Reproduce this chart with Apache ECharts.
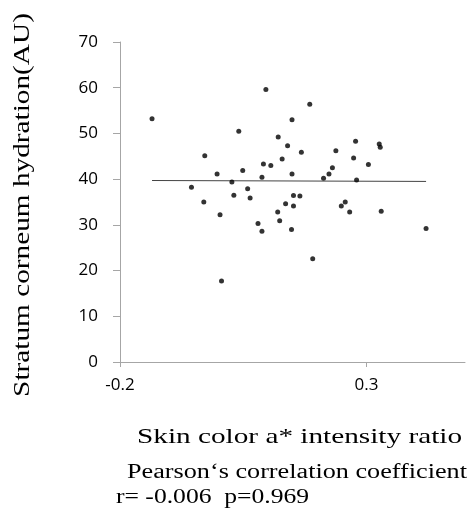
<!DOCTYPE html>
<html>
<head>
<meta charset="utf-8">
<title>Skin color vs stratum corneum hydration</title>
<script src="https://cdn.jsdelivr.net/npm/echarts@6.0.0/dist/echarts.min.js"></script>
<style>
  html, body { margin: 0; padding: 0; background: #fff; }
  #chart { width: 469px; height: 511px; }
</style>
</head>
<body>
<div id="chart"></div>
<script>
// a* intensity ratio (x) and hydration in AU (y)
const ratioValues = [
  -0.135, 0.096, 0.185, 0.149, 0.041, 0.121, 0.140, 0.278, 0.326, 0.328,
  -0.028, 0.168, 0.238, 0.274, 0.129, 0.091, 0.106, 0.304, 0.231, 0.049,
  -0.003, 0.149, 0.224, 0.088, 0.213, 0.280, 0.027, -0.055, 0.059, 0.031,
  0.064, 0.152, 0.165, -0.030, 0.136, 0.152, 0.257, 0.249, 0.266, 0.330,
  0.120, 0.003, 0.124, 0.080, 0.088, 0.148, 0.421, 0.191, 0.006,
];
const hydrationValues = [
  53.2, 59.6, 56.4, 53.0, 50.5, 49.2, 47.3, 48.3, 47.7, 47.0,
  45.1, 45.9, 46.2, 44.6, 44.4, 43.3, 43.0, 43.2, 42.5, 41.9,
  41.1, 41.1, 41.1, 40.4, 40.2, 39.8, 39.4, 38.2, 37.9, 36.5,
  35.9, 36.4, 36.3, 35.0, 34.6, 34.1, 35.0, 34.1, 32.8, 33.0,
  32.8, 32.2, 30.9, 30.3, 28.6, 29.0, 29.2, 22.6, 17.7,
];
// linear fit end points
const fitX = [-0.135, 0.421];
const fitY = [39.7, 39.5];

const xTicks = [-0.2, 0.3];
const yTicks = [0, 10, 20, 30, 40, 50, 60, 70];

const points = ratioValues.map((v, i) => [v, hydrationValues[i]]);
const fitLine = fitX.map((v, i) => [v, fitY[i]]);

const axisGray = '#a6a6a6';
const serif = '"Liberation Serif", "DejaVu Serif", serif';
const sans = '"Open Sans", "Noto Sans", sans-serif';

// the original titles use a wide (mincho-like) face, so stretch them a bit
const titleText = (text, x, y, size, sx, extra) => ({
  type: 'text',
  x,
  y,
  scaleX: sx,
  ...extra,
  style: {
    text,
    fontFamily: serif,
    fontSize: size,
    fill: '#000',
    align: extra && extra.rotation ? 'center' : 'left',
    verticalAlign: 'middle',
  },
});

const option = {
  animation: false,
  backgroundColor: '#fff',
  grid: {
    left: 120,
    right: 4,
    top: 42,
    bottom: 149,
  },
  xAxis: {
    type: 'value',
    min: -0.2,
    max: 0.5,
    interval: 0.5,
    splitLine: { show: false },
    axisLine: {
      onZero: false,
      lineStyle: { color: axisGray, width: 1 },
    },
    axisTick: {
      show: true,
      length: 5,
      customValues: xTicks,
      lineStyle: { color: axisGray },
    },
    axisLabel: {
      customValues: xTicks,
      color: '#000',
      fontFamily: sans,
      fontSize: 17,
      margin: 15,
      formatter: (v) => String(v),
    },
  },
  yAxis: {
    type: 'value',
    min: 0,
    max: 70,
    interval: 10,
    splitLine: { show: false },
    axisLine: {
      show: true,
      onZero: false,
      lineStyle: { color: axisGray, width: 1 },
    },
    axisTick: {
      show: true,
      length: 7,
      customValues: yTicks,
      lineStyle: { color: axisGray },
    },
    axisLabel: {
      customValues: yTicks,
      color: '#000',
      fontFamily: sans,
      fontSize: 17,
      margin: 22,
      padding: [5, 0, 0, 0],
    },
  },
  series: [
    {
      name: 'fit',
      type: 'line',
      data: fitLine,
      symbol: 'none',
      silent: true,
      lineStyle: { color: '#444', width: 1 },
      z: 1,
    },
    {
      name: 'subjects',
      type: 'scatter',
      data: points,
      symbolSize: 5,
      itemStyle: { color: '#000' },
      z: 2,
    },
  ],
  graphic: [
    titleText('Stratum corneum hydration(AU)', 23, 205, 24, 1.22, { rotation: Math.PI / 2 }),
    titleText('Skin color a* intensity ratio', 137, 437, 22, 1.33),
    titleText('Pearson\u2018s correlation coefficient', 127, 473, 20, 1.31),
    titleText('r= -0.006  p=0.969', 116, 498, 20, 1.28),
  ],
};

const chart = echarts.init(document.getElementById('chart'), null, { renderer: 'canvas' });
chart.setOption(option);
</script>
</body>
</html>
